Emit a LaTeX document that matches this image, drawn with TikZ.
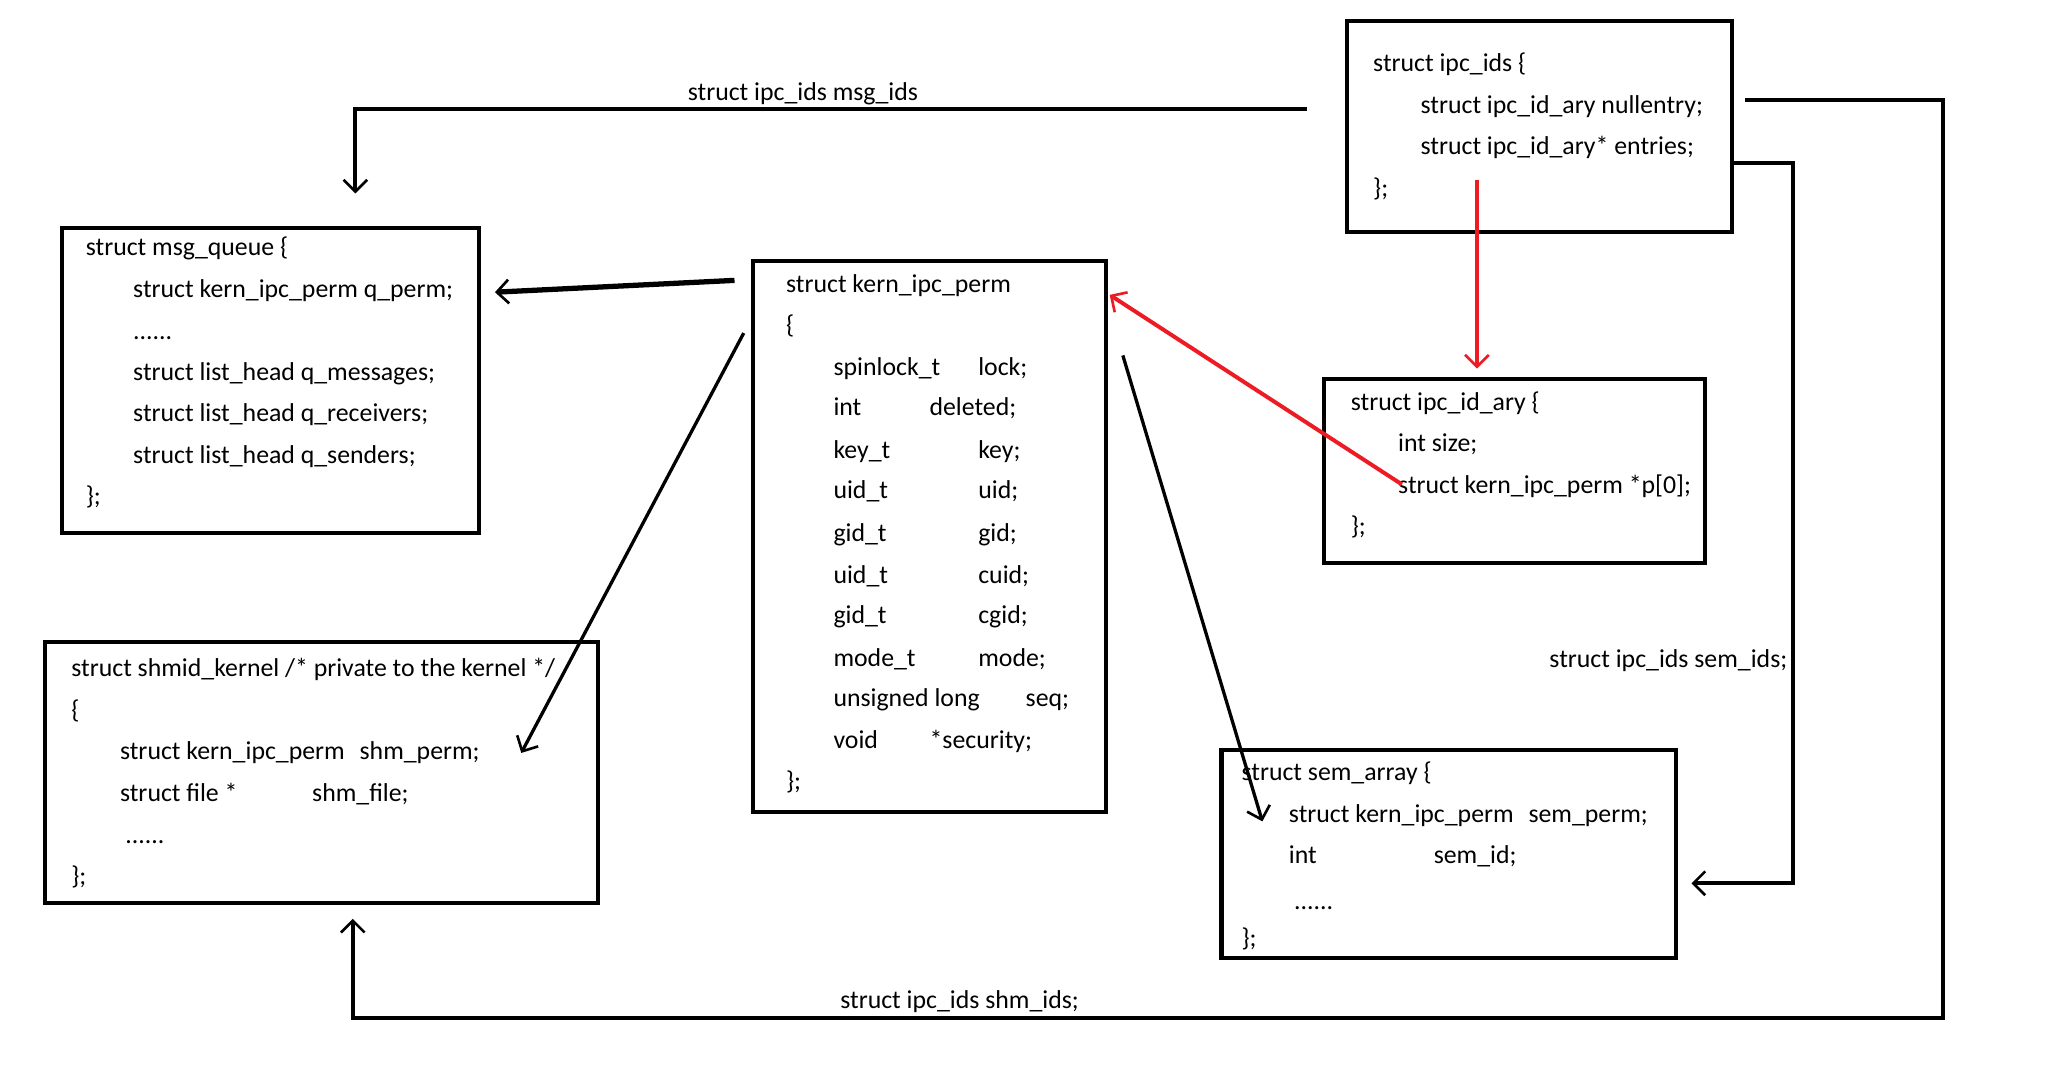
\documentclass[tikz,border=0pt]{standalone}
\usepackage{fontspec}
\setmainfont{Carlito}
\usetikzlibrary{arrows.meta}
\newfontfamily\codefont{Carlito}
\definecolor{paintred}{RGB}{237,28,36}
\begin{document}
\begin{tikzpicture}[x=1pt,y=-1pt,
  box/.style={draw=black,line width=3.2pt,inner sep=0pt,outer sep=0pt,fill=none},
  code/.style={anchor=base west,inner sep=0pt,font=\codefont\fontsize{19.6}{21}\selectfont},
  lbl/.style={anchor=base,inner sep=0pt,font=\codefont\fontsize{19.6}{21}\selectfont},
  conn/.style={draw=black,line width=3pt,line join=miter},
  thin/.style={draw=black,line width=2.5pt},
  redc/.style={draw=paintred,line width=2.5pt},
  barb/.style={-{Straight Barb[length=9pt,width=18pt,line width=2pt]}}
]
\useasboundingbox[fill=white] (0,0) rectangle (1568,815.15);

% ---------- boxes ----------
\node[box,minimum width=317pt,minimum height=232pt] (msgq) at (205.5,289) {};
\node[box,minimum width=268pt,minimum height=419pt] (perm) at (706,407.5) {};
\node[box,minimum width=293pt,minimum height=160pt] (ipcids) at (1169.5,96) {};
\node[box,minimum width=289pt,minimum height=140pt] (idary) at (1150.5,358) {};
\node[box,minimum width=420pt,minimum height=198pt] (shm) at (244,587) {};
\node[box,minimum width=345pt,minimum height=158pt] (sem) at (1100.5,649) {};

% ---------- msg_queue ----------
\node[code] (mq1) at (65,194) {struct msg\_queue \{};
\node[code] (mq2) at (101,226) {struct kern\_ipc\_perm q\_perm;};
\node[code] (mq3) at (101,258) {......};
\node[code] (mq4) at (101,289) {struct list\_head q\_messages;};
\node[code] (mq5) at (101,320) {struct list\_head q\_receivers;};
\node[code] (mq6) at (101,352) {struct list\_head q\_senders;};
\node[code] (mq7) at (65,383) {\};};

% ---------- kern_ipc_perm ----------
\node[code] (p0) at (597,222) {struct kern\_ipc\_perm};
\node[code] (p1) at (597,253) {\{};
\node[code] (p2a) at (633,285) {spinlock\_t};  \node[code] (p2b) at (743,285) {lock;};
\node[code] (p3a) at (633,316) {int};         \node[code] (p3b) at (706,316) {deleted;};
\node[code] (p4a) at (633,348) {key\_t};       \node[code] (p4b) at (743,348) {key;};
\node[code] (p5a) at (633,379) {uid\_t};       \node[code] (p5b) at (743,379) {uid;};
\node[code] (p6a) at (633,411) {gid\_t};       \node[code] (p6b) at (743,411) {gid;};
\node[code] (p7a) at (633,443) {uid\_t};       \node[code] (p7b) at (743,443) {cuid;};
\node[code] (p8a) at (633,474) {gid\_t};       \node[code] (p8b) at (743,474) {cgid;};
\node[code] (p9a) at (633,506) {mode\_t};      \node[code] (p9b) at (743,506) {mode;};
\node[code] (p10a) at (633,537) {unsigned long}; \node[code] (p10b) at (779,537) {seq;};
\node[code] (p11a) at (633,569) {void};        \node[code] (p11b) at (706,569) {*security;};
\node[code] (p12) at (597,600) {\};};

% ---------- ipc_ids ----------
\node[code] (i1) at (1043,54) {struct ipc\_ids \{};
\node[code] (i2) at (1079,86) {struct ipc\_id\_ary nullentry;};
\node[code] (i3) at (1079,117) {struct ipc\_id\_ary* entries;};
\node[code] (i4) at (1043,149) {\};};

% ---------- ipc_id_ary ----------
\node[code] (a1) at (1026,312) {struct ipc\_id\_ary \{};
\node[code] (a2) at (1062,343) {int size;};
\node[code] (a3) at (1062,375) {struct kern\_ipc\_perm *p[0];};
\node[code] (a4) at (1026,406) {\};};

% ---------- shmid_kernel ----------
\node[code] (s1) at (54,514) {struct shmid\_kernel /* private to the kernel */};
\node[code] (s2) at (54,546) {\{};
\node[code] (s3a) at (91,577) {struct kern\_ipc\_perm}; \node[code] (s3b) at (273,577) {shm\_perm;};
\node[code] (s4a) at (91,609) {struct file *};         \node[code] (s4b) at (237,609) {shm\_file;};
\node[code] (s5) at (95,641) {......};
\node[code] (s6) at (54,672) {\};};

% ---------- sem_array ----------
\node[code] (e1) at (943,593) {struct sem\_array \{};
\node[code] (e2a) at (979,625) {struct kern\_ipc\_perm}; \node[code] (e2b) at (1161,625) {sem\_perm;};
\node[code] (e3a) at (979,656) {int};                   \node[code] (e3b) at (1089,656) {sem\_id;};
\node[code] (e4) at (983,691) {......};
\node[code] (e5) at (943,719) {\};};

% ---------- labels ----------
\node[lbl] (lmsg) at (610,76) {struct ipc\_ids msg\_ids};
\node[lbl] (lshm) at (729,766) {struct ipc\_ids shm\_ids;};
\node[lbl,anchor=base east] (lsem) at (1358,507) {struct ipc\_ids sem\_ids;};

% ---------- connector end points ----------
\coordinate (msgS) at (993,83);
\coordinate (msgE) at (270,147);
\coordinate (shmS) at (1326,76);
\coordinate (shmE) at (268,698);
\coordinate (semS) at (1316,124);
\coordinate (semE) at (1285,671);
\coordinate (rS) at (1122,137);
\coordinate (rE) at (1122,280);
\coordinate (r2S) at (1065,368);
\coordinate (r2E) at (843,224);
\coordinate (qS) at (558,213);
\coordinate (qE) at (376,222);
\coordinate (shS) at (565,253);
\coordinate (shE) at (396,572);
\coordinate (seS) at (853,270);
\coordinate (seE) at (959,624);

% ---------- connectors ----------
\draw[conn,barb] (msgS) -| (msgE);
\draw[conn,barb] (shmS) -- (1476,76) -- (1476,773) -- (268,773) -- (shmE);
\draw[conn,barb] (semS) -- (1362,124) -- (1362,671) -- (semE);
\draw[redc,barb] (rS) -- (rE);
\draw[redc,barb,line width=3pt] (r2S) -- (r2E);
\draw[conn,barb,line width=4pt] (qS) -- (qE);
\draw[thin,barb] (shS) -- (shE);
\draw[thin,barb] (seS) -- (seE);
\end{tikzpicture}
\end{document}
